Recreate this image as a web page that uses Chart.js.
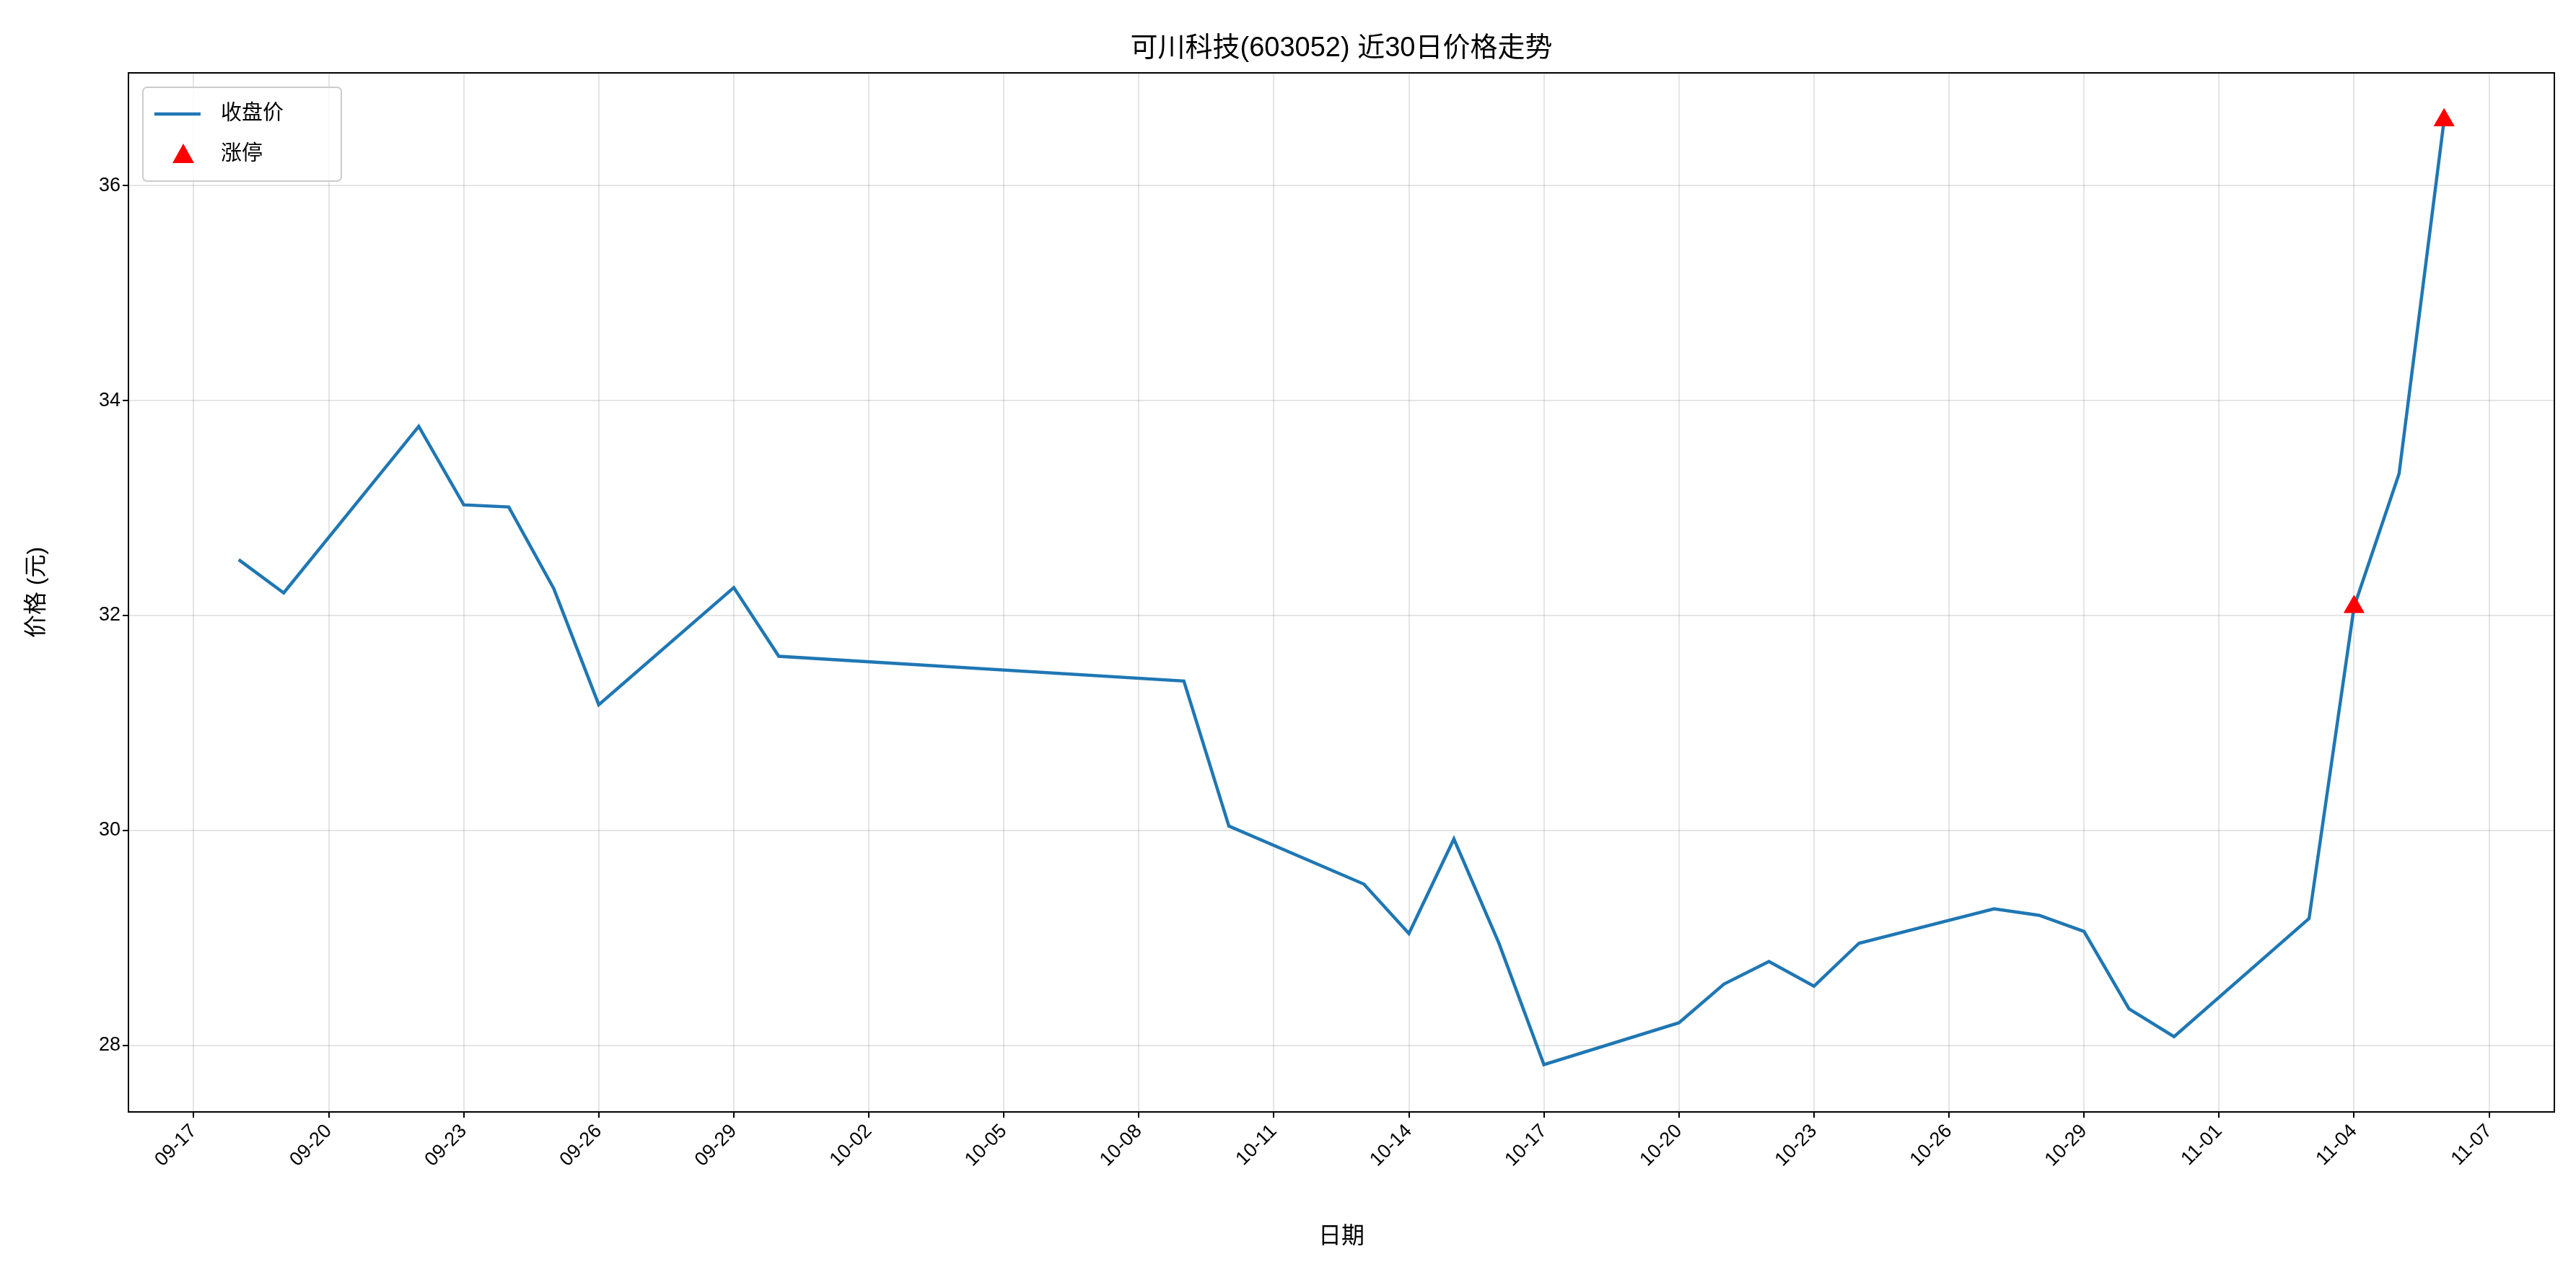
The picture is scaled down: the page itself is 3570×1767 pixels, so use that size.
<!DOCTYPE html>
<html>
<head>
<meta charset="utf-8">
<script src="https://cdn.jsdelivr.net/npm/chart.js@4.4.1/dist/chart.umd.min.js"></script>
<style>
  html, body { margin: 0; padding: 0; background: #fff; }
  #wrap { width: 3570px; height: 1767px; }
</style>
</head>
<body>
<div id="wrap"><canvas id="c" width="3570" height="1767"></canvas></div>
<script>
/* ===============================
   Data (day index counted from 09-17)
================================*/
const closeDays = [1, 2, 5, 6, 7, 8, 9, 12, 13, 22, 23, 26, 27, 28, 29, 30, 33, 34, 35, 36, 37, 40, 41, 42, 43, 44, 47, 48, 49, 50];
const closePrices = [32.52, 32.21, 33.76, 33.03, 33.01, 32.25, 31.17, 32.26, 31.62, 31.39, 30.04, 29.50, 29.04, 29.92, 28.95, 27.82, 28.21, 28.57, 28.78, 28.55, 28.95, 29.27, 29.21, 29.06, 28.34, 28.08, 29.18, 32.08, 33.32, 36.61];
const limitUpDays = [48, 50];
const limitUpPrices = [32.08, 36.61];
const xTickDays = [0, 3, 6, 9, 12, 15, 18, 21, 24, 27, 30, 33, 36, 39, 42, 45, 48, 51];
const xTickLabels = ["09-17", "09-20", "09-23", "09-26", "09-29", "10-02", "10-05", "10-08", "10-11", "10-14", "10-17", "10-20", "10-23", "10-26", "10-29", "11-01", "11-04", "11-07"];
const yTicks = [28, 30, 32, 34, 36];

const FONT = '"Liberation Sans", "Noto Sans CJK SC", sans-serif';

/* ===============================
   Plot frame, title + in-plot legend
================================*/
const framePlugin = {
  id: "frame",
  afterDraw(chart) {
    const { ctx, chartArea: a } = chart;
    ctx.save();
    ctx.strokeStyle = "#000";
    ctx.lineWidth = 2;
    ctx.strokeRect(a.left, a.top, a.right - a.left, a.bottom - a.top);

    // title
    ctx.fillStyle = "#000";
    ctx.font = `38px ${FONT}`;
    ctx.textAlign = "center";
    ctx.textBaseline = "bottom";
    ctx.fillText("可川科技(603052) 近30日价格走势", (a.left + a.right) / 2, a.top - 14);

    // legend
    const ds = chart.data.datasets;
    const bx = a.left + 20, by = a.top + 20, bw = 275, bh = 130;
    ctx.fillStyle = "rgba(255,255,255,0.8)";
    ctx.strokeStyle = "#ccc";
    ctx.lineWidth = 2;
    ctx.beginPath();
    ctx.roundRect(bx, by, bw, bh, 6);
    ctx.fill();
    ctx.stroke();
    ctx.font = `29px ${FONT}`;
    ctx.textAlign = "left";
    ctx.textBaseline = "middle";
    const y1 = by + 37, y2 = by + 93;
    ctx.strokeStyle = ds[0].borderColor;
    ctx.lineWidth = 4.5;
    ctx.beginPath();
    ctx.moveTo(bx + 16, y1);
    ctx.lineTo(bx + 80, y1);
    ctx.stroke();
    ctx.fillStyle = "red";
    ctx.beginPath();
    ctx.moveTo(bx + 56, y2 - 15);
    ctx.lineTo(bx + 71, y2 + 12);
    ctx.lineTo(bx + 41, y2 + 12);
    ctx.closePath();
    ctx.fill();
    ctx.fillStyle = "#000";
    ctx.fillText(ds[0].label, bx + 108, y1);
    ctx.fillText(ds[1].label, bx + 108, y2);
    ctx.restore();
  }
};

/* ===============================
   Chart
================================*/
new Chart(document.getElementById("c"), {
  type: "scatter",
  data: {
    datasets: [
      {
        label: "收盘价",
        type: "line",
        data: closeDays.map((d, i) => ({ x: d, y: closePrices[i] })),
        borderColor: "#1f77b4",
        borderWidth: 4.5,
        pointRadius: 0,
        tension: 0,
        showLine: true,
        order: 2
      },
      {
        label: "涨停",
        data: limitUpDays.map((d, i) => ({ x: d, y: limitUpPrices[i] })),
        backgroundColor: "red",
        borderColor: "red",
        pointStyle: "triangle",
        pointRadius: 16,
        order: 1
      }
    ]
  },
  options: {
    responsive: false,
    animation: false,
    devicePixelRatio: 1,
    layout: { padding: { top: 101, right: 30, left: 28, bottom: 30 } },
    plugins: { legend: { display: false }, tooltip: { enabled: false } },
    scales: {
      x: {
        type: "linear",
        min: -1.45,
        max: 52.45,
        afterBuildTicks: (s) => { s.ticks = xTickDays.map((v) => ({ value: v })); },
        afterFit: (s) => { s.height = 196; },
        ticks: {
          color: "#000",
          font: { family: FONT, size: 27 },
          minRotation: 45,
          maxRotation: 45,
          callback: (v) => xTickLabels[xTickDays.indexOf(v)] || ""
        },
        grid: { color: "rgba(0,0,0,0.1)", lineWidth: 2, tickColor: "#000", tickLength: 8 },
        border: { display: false },
        title: { display: true, text: "日期", color: "#000", font: { family: FONT, size: 32 } }
      },
      y: {
        min: 27.38,
        max: 37.05,
        afterBuildTicks: (s) => { s.ticks = yTicks.map((v) => ({ value: v })); },
        afterFit: (s) => { s.width = 150; },
        ticks: {
          color: "#000",
          font: { family: FONT, size: 27 },
          callback: (v) => String(v)
        },
        grid: { color: "rgba(0,0,0,0.1)", lineWidth: 2, tickColor: "#000", tickLength: 8 },
        border: { display: false },
        title: { display: true, text: "价格 (元)", color: "#000", font: { family: FONT, size: 32 } }
      }
    }
  },
  plugins: [framePlugin]
});
</script>
</body>
</html>
